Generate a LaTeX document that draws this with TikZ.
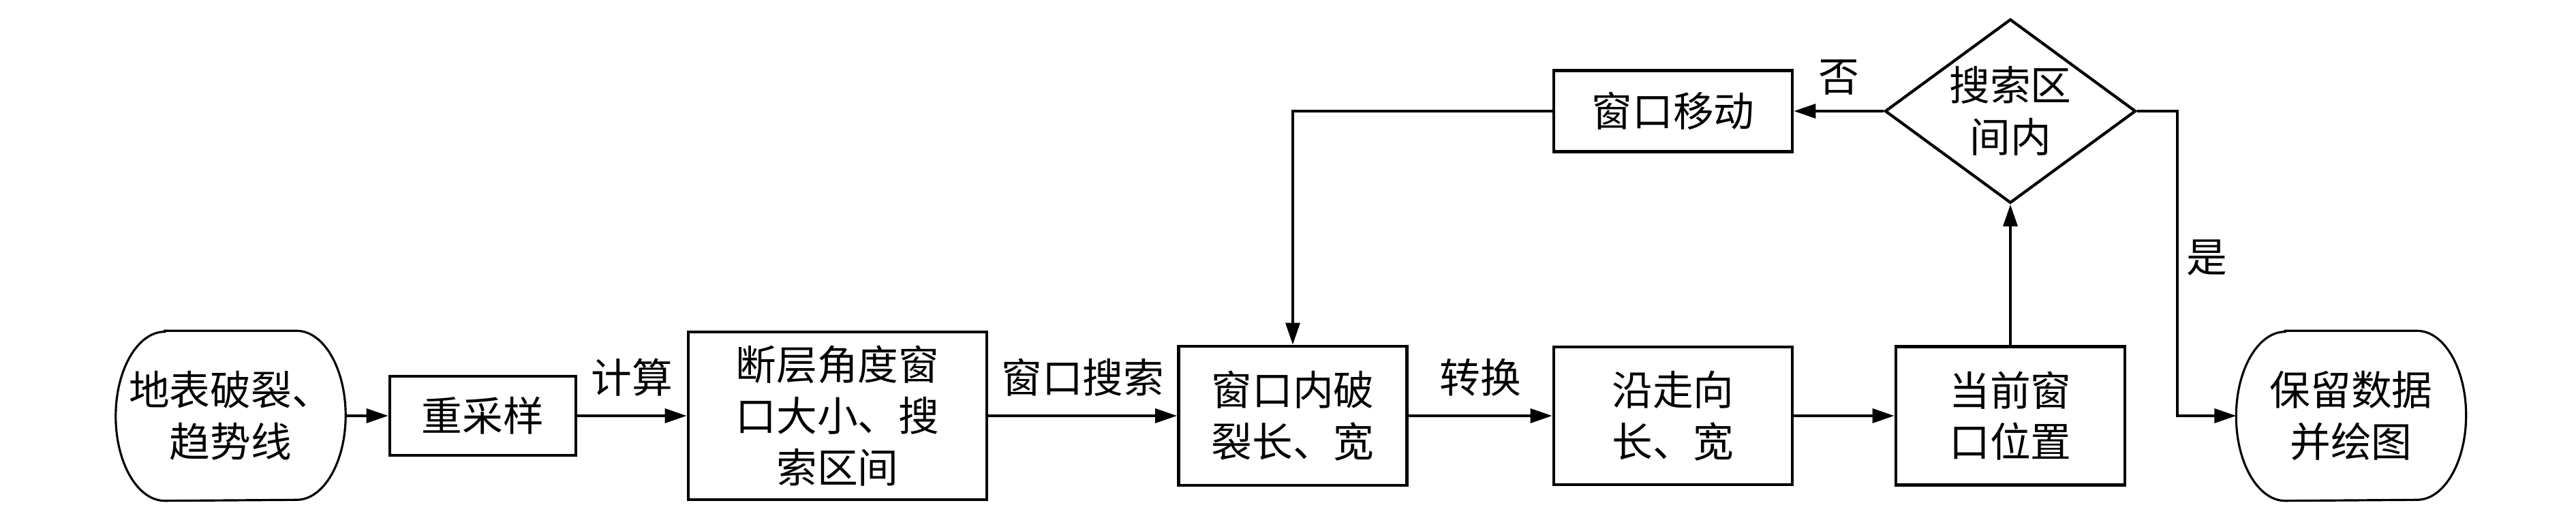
\documentclass[tikz,border=0pt]{standalone}
\usepackage{fontspec}
\setmainfont{Noto Sans CJK SC}
\usetikzlibrary{shapes.geometric,arrows.meta}

\tikzset{
  >={Triangle[length=3.2mm,width=2.1mm]},
  box/.style={draw, line width=1.4pt, align=center, inner sep=0pt},
  term/.style={align=center, inner sep=0pt, minimum width=3.36cm, minimum height=2.48cm},
  choice/.style={draw, diamond, aspect=1.36, line width=1.2pt, align=center, inner sep=0pt, minimum width=3.68cm, minimum height=2.7cm},
  flow/.style={line width=1pt}
}
\newcommand{\termshape}[1]{%
  \draw[line width=0.9pt] ([xshift=0.72cm]#1.north west) -- ([xshift=-0.72cm]#1.north east)
    arc[start angle=90, end angle=-90, x radius=0.72cm, y radius=1.24cm]
    -- ([xshift=0.72cm]#1.south west)
    arc[start angle=270, end angle=90, x radius=0.72cm, y radius=1.24cm] -- cycle;}

\begin{document}
\begin{tikzpicture}[font=\fontsize{17}{21.5}\selectfont]
        \useasboundingbox (0,0) rectangle (37.8,7.56);
        \node[term] (start) at (3.385,1.46) {地表破裂、\\趋势线};
        \termshape{start}
        \node[box, minimum width=2.73cm, minimum height=1.16cm] (resample) at (7.085,1.46) {重采样};
        \node[box, minimum width=4.38cm, minimum height=2.46cm] (param) at (12.29,1.46) {断层角度窗\\口大小、搜\\索区间};
        \node[box, minimum width=3.35cm, minimum height=2.04cm] (inner) at (18.97,1.46) {窗口内破\\裂长、宽};
        \node[box, minimum width=3.5cm, minimum height=2.02cm] (strike) at (24.55,1.46) {沿走向\\长、宽};
        \node[box, minimum width=3.36cm, minimum height=2.03cm] (current) at (29.5,1.46) {当前窗\\口位置};
        \node[choice] (check) at (29.5,5.93) {搜索区\\间内};
        \node[box, minimum width=3.5cm, minimum height=1.19cm] (move) at (24.55,5.93) {窗口移动};
        \node[term] (keep) at (34.5,1.46) {保留数据\\并绘图};
        \termshape{keep}
        \coordinate (yesturn) at (31.95,5.93);

        \draw[->, flow] (start) -- (resample);
        \draw[->, flow] (resample) -- node[above=0.15cm] {计算} (param);
        \draw[->, flow] (param) -- node[above=0.15cm] {窗口搜索} (inner);
        \draw[->, flow] (inner) -- node[above=0.15cm] {转换} (strike);
        \draw[->, flow] (strike) -- (current);
        \draw[->, flow] (current) -- (check);
        \draw[->, flow] (check.west) -- node[above=1mm] {否} (move.east);
        \draw[->, flow] (move.west) -| (inner.north);
        \draw[->, flow] (check.east) -- (yesturn) |- node[pos=0.24, right] {是} (keep.west);
    \end{tikzpicture}
\end{document}
